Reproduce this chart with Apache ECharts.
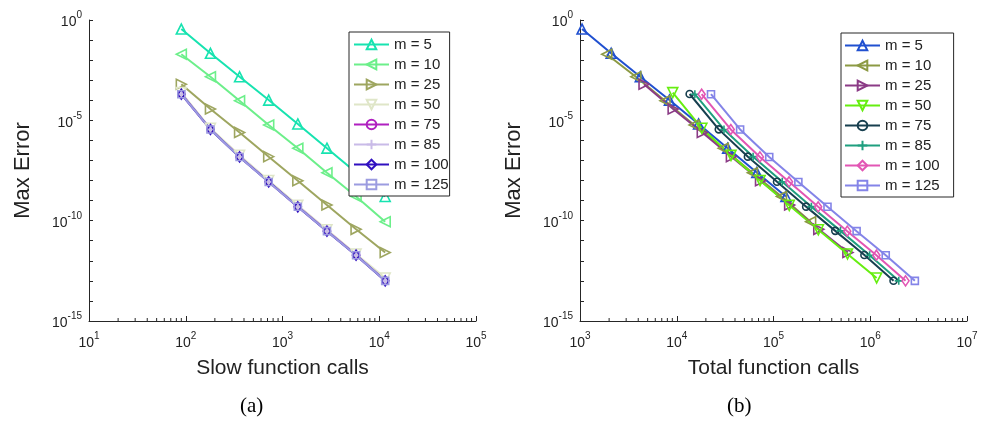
<!DOCTYPE html>
<html>
<head>
<meta charset="utf-8">
<script src="https://cdn.jsdelivr.net/npm/echarts@6/dist/echarts.min.js"></script>
<style>html,body{margin:0;padding:0;background:#fff}#c{width:984px;height:421px}</style>
</head>
<body>
<div id="c"></div>
<script>
// ---- data ----
const mValues = ['m = 5','m = 10','m = 25','m = 50','m = 75','m = 85','m = 100','m = 125'];
const slowCalls = [90, 180, 360, 720, 1440, 2880, 5760, 11520];

const err_m5   = [0.355, 0.0219, 1.48e-3, 1.02e-4, 6.6e-6, 4.1e-7, 2.5e-8, 1.6e-9];
const err_m10  = [1.95e-2, 1.48e-3, 9.5e-5, 5.9e-6, 4.1e-7, 2.45e-8, 1.6e-9, 8.9e-11];
const err_m25  = [6.3e-4, 3.7e-5, 2.5e-6, 1.55e-7, 9.8e-9, 6.0e-10, 3.7e-11, 2.6e-12];
const err_m50  = [2.4e-4, 4.0e-6, 1.8e-7, 1.0e-8, 5.8e-10, 3.5e-11, 2.2e-12, 1.4e-13];
const err_m75  = [2.05e-4, 3.55e-6, 1.55e-7, 8.7e-9, 5.0e-10, 3.1e-11, 1.95e-12, 1.02e-13];
const err_m85  = [2.0e-4, 3.5e-6, 1.55e-7, 8.6e-9, 5.0e-10, 3.1e-11, 1.9e-12, 1.0e-13];
const err_m100 = [2.0e-4, 3.5e-6, 1.5e-7, 8.6e-9, 4.9e-10, 3.0e-11, 1.9e-12, 1.0e-13];
const err_m125 = [2.0e-4, 3.5e-6, 1.5e-7, 8.5e-9, 4.9e-10, 3.0e-11, 1.9e-12, 1.0e-13];

const total_m5   = [1050, 2100, 4200, 8400, 16800, 33600, 67200, 134400];
const total_m10  = [1890, 3780, 7560, 15120, 30240, 60480, 120960, 241920];
const total_m25  = [4590, 9180, 18360, 36720, 73440, 146880, 293760, 587520];
const total_m50  = [9090, 18180, 36360, 72720, 145440, 290880, 581760, 1163520];
const total_m75  = [13590, 27180, 54360, 108720, 217440, 434880, 869760, 1739520];
const total_m85  = [15390, 30780, 61560, 123120, 246240, 492480, 984960, 1969920];
const total_m100 = [18090, 36180, 72360, 144720, 289440, 578880, 1157760, 2315520];
const total_m125 = [22590, 45180, 90360, 180720, 361440, 722880, 1445760, 2891520];

const leftXTicks = [10, 100, 1000, 10000, 100000];
const rightXTicks = [1000, 10000, 100000, 1000000, 10000000];
const minorMult = [2, 3, 4, 5, 6, 7, 8, 9];

// ---- styling ----
const errs = [err_m5, err_m10, err_m25, err_m50, err_m75, err_m85, err_m100, err_m125];
const totals = [total_m5, total_m10, total_m25, total_m50, total_m75, total_m85, total_m100, total_m125];
const leftColors = ['#17e3b0', '#6cef8a', '#9ea660', '#dfe6c8', '#b020c0', '#c9bbe8', '#3010c0', '#9c9ce0'];
const rightColors = ['#2050d0', '#8c9a44', '#8b3b86', '#66ee10', '#173f4f', '#1f9f7f', '#e256b4', '#8484e8'];
const plusPath = 'path://M0,5L10,5M5,0L5,10';
const markers = [
  {s: 'triangle', r: 0, z: 10},
  {s: 'triangle', r: 90, z: 10},
  {s: 'triangle', r: -90, z: 10},
  {s: 'triangle', r: 180, z: 10},
  {s: 'circle', r: 0, z: 7},
  {s: plusPath, r: 0, z: 8},
  {s: 'diamond', r: 0, z: [7, 10]},
  {s: 'rect', r: 0, z: 7}
];
const FONT = 'Liberation Sans';
const TXT = '#222';

function mk(prefix, axisIdx, i, xs, ys, color) {
  const m = markers[i];
  return {
    type: 'line',
    name: prefix + mValues[i],
    xAxisIndex: axisIdx, yAxisIndex: axisIdx,
    data: xs.map((x, k) => [x, ys[k]]),
    symbol: m.s, symbolRotate: m.r, symbolSize: m.z,
    showAllSymbol: true, clip: false,
    color: color,
    lineStyle: {color: color, width: 2},
    itemStyle: {color: 'rgba(255,255,255,0)', borderColor: color, borderWidth: 1.6},
    emphasis: {disabled: true},
    animation: false
  };
}

function expLabel(v) {
  const e = Math.round(Math.log10(v));
  return '{b|10}{s|' + e + '}';
}
const rich = {
  b: {fontSize: 14, fontFamily: FONT, color: TXT, lineHeight: 19, verticalAlign: 'bottom'},
  s: {fontSize: 10, fontFamily: FONT, color: TXT, verticalAlign: 'top'}
};

function xAx(idx, min, max, name) {
  return {
    type: 'log', gridIndex: idx, min: min, max: max, logBase: 10, interval: 1,
    name: name, nameLocation: 'middle', nameGap: 37,
    nameTextStyle: {fontSize: 21, fontFamily: FONT, color: TXT},
    axisLine: {show: true, onZero: false, lineStyle: {color: '#262626', width: 1}},
    axisTick: {show: true, inside: true, length: 5, lineStyle: {color: '#262626'}},
    axisLabel: {formatter: expLabel, rich: rich, margin: 10},
    splitLine: {show: false}, minorTick: {show: false}
  };
}
function yAx(idx) {
  return {
    type: 'log', gridIndex: idx, min: 1e-15, max: 1, logBase: 10, interval: 1,
    name: 'Max Error', nameLocation: 'middle', nameGap: 55,
    nameTextStyle: {fontSize: 22, fontFamily: FONT, color: TXT},
    axisLine: {show: true, onZero: false, lineStyle: {color: '#262626', width: 1}},
    axisTick: {show: true, inside: true, length: 4, lineStyle: {color: '#262626'}},
    axisLabel: {
      formatter: v => { const e = Math.round(Math.log10(v)); return (e % 5 === 0) ? expLabel(v) : ''; },
      rich: rich, margin: 7, align: 'right'
    },
    splitLine: {show: false}
  };
}

function minorSeries(axisIdx, decades) {
  const data = [];
  decades.slice(0, -1).forEach(d => minorMult.forEach(k => data.push([d * k, 1e-15])));
  return {
    type: 'custom', xAxisIndex: axisIdx, yAxisIndex: axisIdx, silent: true, animation: false,
    data: data, clip: false,
    renderItem: (params, api) => {
      const p = api.coord([api.value(0), api.value(1)]);
      return {type: 'line', shape: {x1: p[0], y1: p[1], x2: p[0], y2: p[1] - 3},
              style: {stroke: '#262626', lineWidth: 1}};
    }
  };
}

function legend(prefix, left, top, padding) {
  return {
    data: mValues.map(n => prefix + n),
    formatter: n => n.slice(2),
    orient: 'vertical', left: left, top: top, padding: padding,
    borderColor: '#262626', borderWidth: 1, backgroundColor: '#fff',
    itemWidth: 35, itemHeight: 12, itemGap: 5, selectedMode: false,
    textStyle: {fontSize: 15, fontFamily: FONT, color: TXT, lineHeight: 14}
  };
}

const series = [];
for (let i = 0; i < 8; i++) series.push(mk('a:', 0, i, slowCalls, errs[i], leftColors[i]));
for (let i = 0; i < 8; i++) series.push(mk('b:', 1, i, totals[i], errs[i], rightColors[i]));
series.push(minorSeries(0, leftXTicks));
series.push(minorSeries(1, rightXTicks));

const chart = echarts.init(document.getElementById('c'), null, {renderer: 'canvas'});
chart.setOption({
  animation: false,
  backgroundColor: '#fff',
  grid: [
    {left: 89, top: 20, width: 387, height: 301},
    {left: 580, top: 20, width: 387, height: 301}
  ],
  xAxis: [xAx(0, 10, 1e5, 'Slow function calls'), xAx(1, 1e3, 1e7, 'Total function calls')],
  yAxis: [yAx(0), yAx(1)],
  legend: [legend('a:', 349, 32, [5, 1, 4, 4]), legend('b:', 841, 33, [5, 14, 4, 3])],
  graphic: [
    {type: 'text', left: 240, top: 396, style: {text: '(a)', font: '21px "Liberation Serif"', fill: '#000'}},
    {type: 'text', left: 727, top: 396, style: {text: '(b)', font: '21px "Liberation Serif"', fill: '#000'}}
  ],
  series: series
});
</script>
</body>
</html>
